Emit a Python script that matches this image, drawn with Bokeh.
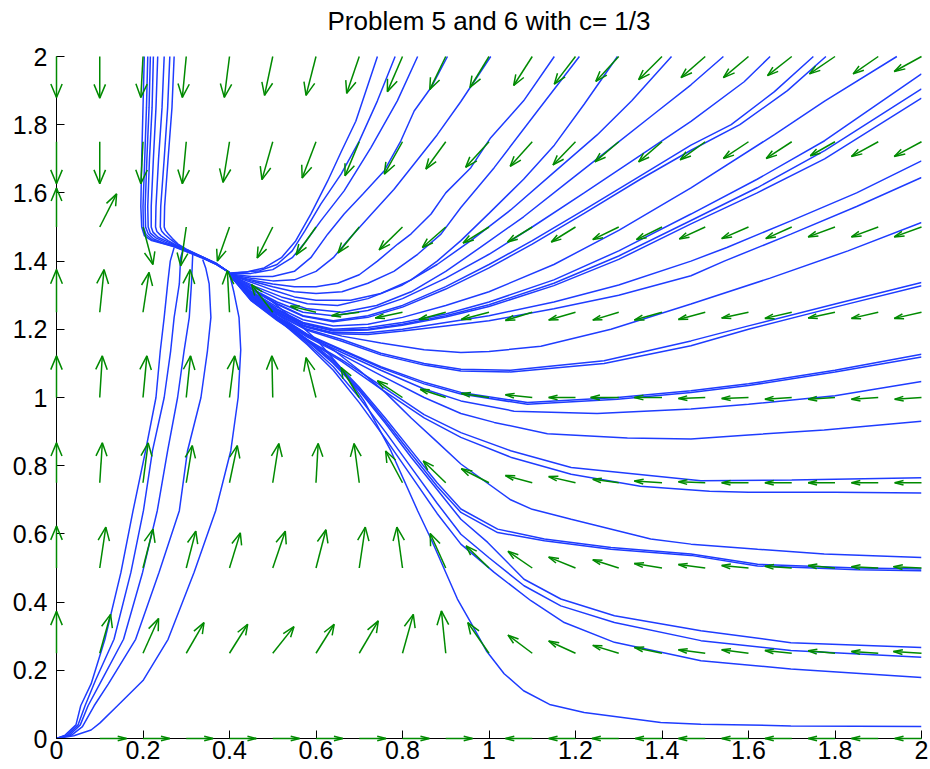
from bokeh.plotting import figure
from bokeh.models import Range1d, FixedTicker, Label
from bokeh.embed import file_html
from bokeh.resources import INLINE

title_text = "Problem 5 and 6 with c= 1/3"
x_ticks = [0, 0.2, 0.4, 0.6, 0.8, 1, 1.2, 1.4, 1.6, 1.8, 2]
x_tick_labels = ["0", "0.2", "0.4", "0.6", "0.8", "1", "1.2", "1.4", "1.6", "1.8", "2"]
y_ticks = [0, 0.2, 0.4, 0.6, 0.8, 1, 1.2, 1.4, 1.6, 1.8, 2]
y_tick_labels = ["0", "0.2", "0.4", "0.6", "0.8", "1", "1.2", "1.4", "1.6", "1.8", "2"]

# ---- direction field (arrow components) ----
grid_x = [0.0, 0.1, 0.2, 0.3, 0.4, 0.5, 0.6, 0.7, 0.8, 0.9, 1.0,
          1.1, 1.2, 1.3, 1.4, 1.5, 1.6, 1.7, 1.8, 1.9, 2.0]
grid_y = [0.0, 0.25, 0.5, 0.75, 1.0, 1.25, 1.5, 1.75, 2.0]

u_y000 = [0, 0.062, 0.062, 0.062, 0.062, 0.062, 0.062, 0.062, 0.062, 0.062, 0,
          -0.062, -0.062, -0.062, -0.062, -0.062, -0.062, -0.062, -0.062, -0.062, -0.062]
v_y000 = [0] * 21
u_y025 = [0, 0.025, 0.036, 0.041, 0.042, 0.049, 0.042, 0.044, 0.025, -0.010, -0.049,
          -0.056, -0.062, -0.060, -0.064, -0.062, -0.062, -0.062, -0.062, -0.062, -0.065]
v_y025 = [0.123, 0.114, 0.102, 0.090, 0.085, 0.078, 0.085, 0.095, 0.114, 0.124, 0.090,
          0.053, 0.036, 0.023, 0.017, 0.010, 0.010, 0.008, 0.007, 0.005, 0.005]
u_y050 = [0, 0.014, 0.023, 0.022, 0.025, 0.029, 0.023, 0.014, -0.013, -0.036, -0.053,
          -0.056, -0.062, -0.060, -0.064, -0.062, -0.062, -0.062, -0.062, -0.062, -0.065]
v_y050 = [0.123, 0.120, 0.114, 0.108, 0.103, 0.108, 0.112, 0.120, 0.120, 0.101, 0.065,
          0.049, 0.032, 0.024, 0.013, 0.010, 0.007, 0.005, 0.007, 0.004, 0.004]
u_y075 = [0, 0.006, 0.012, 0.014, 0.018, 0.014, 0.005, -0.012, -0.039, -0.052, -0.064,
          -0.062, -0.062, -0.060, -0.064, -0.062, -0.062, -0.062, -0.062, -0.062, -0.062]
v_y075 = [0.117, 0.117, 0.117, 0.109, 0.109, 0.115, 0.115, 0.115, 0.093, 0.064, 0.041,
          0.021, 0.018, 0.010, 0.005, 0.003, 0.0, 0.0, 0.0, 0.0, 0.0]
u_y100 = [0, 0.006, 0.009, 0.010, 0.012, -0.002, -0.023, -0.042, -0.058, -0.059, -0.064,
          -0.062, -0.062, -0.065, -0.064, -0.062, -0.062, -0.062, -0.062, -0.062, -0.062]
v_y100 = [0.122, 0.122, 0.122, 0.122, 0.122, 0.122, 0.117, 0.088, 0.049, 0.024, 0.012,
          0.008, 0.0, 0.0, 0.0, -0.003, -0.003, -0.005, -0.005, -0.005, -0.005]
u_y125 = [0, 0.010, 0.014, 0.009, -0.005, -0.049, -0.059, -0.064, -0.063, -0.062, -0.064,
          -0.062, -0.062, -0.060, -0.064, -0.062, -0.062, -0.062, -0.062, -0.062, -0.063]
v_y125 = [0.125, 0.125, 0.117, 0.125, 0.122, 0.081, 0.018, -0.010, -0.017, -0.021, -0.021,
          -0.024, -0.023, -0.023, -0.023, -0.021, -0.017, -0.018, -0.017, -0.018, -0.018]
u_y150 = [0, 0.039, 0.023, -0.013, -0.028, -0.036, -0.046, -0.049, -0.054, -0.054, -0.060,
          -0.057, -0.056, -0.060, -0.059, -0.060, -0.062, -0.060, -0.062, -0.062, -0.063]
v_y150 = [0.114, 0.097, -0.110, -0.114, -0.100, -0.091, -0.082, -0.076, -0.067, -0.060, -0.047,
          -0.044, -0.044, -0.037, -0.037, -0.035, -0.034, -0.034, -0.029, -0.029, -0.029]
u_y175 = [0, 0, -0.005, -0.009, -0.015, -0.025, -0.032, -0.033, -0.042, -0.046, -0.054,
          -0.051, -0.052, -0.055, -0.054, -0.058, -0.058, -0.059, -0.057, -0.062, -0.063]
v_y175 = [-0.123, -0.123, -0.123, -0.123, -0.119, -0.111, -0.106, -0.100, -0.095, -0.080, -0.075,
          -0.072, -0.068, -0.059, -0.059, -0.053, -0.049, -0.049, -0.041, -0.043, -0.043]
u_y200 = [0, 0, -0.005, -0.009, -0.012, -0.019, -0.023, -0.029, -0.035, -0.037, -0.044,
          -0.043, -0.049, -0.053, -0.054, -0.056, -0.058, -0.056, -0.059, -0.058, -0.063]
v_y200 = [-0.120, -0.122, -0.120, -0.120, -0.120, -0.114, -0.114, -0.108, -0.103, -0.097, -0.091,
          -0.085, -0.081, -0.073, -0.068, -0.062, -0.062, -0.056, -0.051, -0.051, -0.044]

field_u = [u_y000, u_y025, u_y050, u_y075, u_y100, u_y125, u_y150, u_y175, u_y200]
field_v = [v_y000, v_y025, v_y050, v_y075, v_y100, v_y125, v_y150, v_y175, v_y200]

# ---- solution curves ----
top_left_1 = [(0.203, 2.0), (0.200, 1.85), (0.197, 1.70), (0.195, 1.56), (0.197, 1.50), (0.203, 1.475),
              (0.220, 1.460), (0.250, 1.450), (0.272, 1.442), (0.300, 1.428), (0.335, 1.410), (0.370, 1.390), (0.400, 1.366)]
top_left_2 = [(0.211, 2.0), (0.208, 1.85), (0.204, 1.70), (0.200, 1.56), (0.201, 1.50), (0.207, 1.478),
              (0.222, 1.462), (0.250, 1.451), (0.273, 1.443), (0.300, 1.429), (0.335, 1.411), (0.370, 1.390), (0.400, 1.366)]
top_left_3 = [(0.217, 2.0), (0.214, 1.85), (0.209, 1.70), (0.205, 1.56), (0.206, 1.50), (0.212, 1.480),
              (0.225, 1.465), (0.250, 1.452), (0.274, 1.444), (0.300, 1.430), (0.335, 1.412), (0.370, 1.391), (0.400, 1.366)]
top_left_4 = [(0.224, 2.0), (0.221, 1.85), (0.215, 1.70), (0.211, 1.56), (0.212, 1.50), (0.217, 1.482),
              (0.230, 1.468), (0.252, 1.455), (0.275, 1.445), (0.300, 1.431), (0.335, 1.412), (0.370, 1.391), (0.400, 1.366)]
top_left_5 = [(0.234, 2.0), (0.230, 1.85), (0.224, 1.70), (0.219, 1.56), (0.219, 1.50), (0.223, 1.485),
              (0.235, 1.470), (0.255, 1.458), (0.276, 1.446), (0.300, 1.432), (0.335, 1.413), (0.370, 1.392), (0.400, 1.366)]
top_left_6 = [(0.249, 2.0), (0.244, 1.85), (0.236, 1.70), (0.230, 1.56), (0.229, 1.50), (0.232, 1.487),
              (0.242, 1.474), (0.258, 1.460), (0.277, 1.447), (0.300, 1.433), (0.335, 1.413), (0.370, 1.392), (0.400, 1.366)]
top_left_7 = [(0.262, 2.0), (0.257, 1.85), (0.249, 1.70), (0.241, 1.56), (0.240, 1.50), (0.243, 1.488),
              (0.250, 1.478), (0.262, 1.465), (0.279, 1.449), (0.300, 1.434), (0.335, 1.414), (0.370, 1.393), (0.400, 1.366)]
top_left_8 = [(0.272, 2.0), (0.267, 1.85), (0.258, 1.70), (0.250, 1.56), (0.249, 1.50), (0.252, 1.490),
              (0.258, 1.480), (0.268, 1.466), (0.281, 1.450), (0.300, 1.435), (0.335, 1.414), (0.370, 1.393), (0.400, 1.366)]

origin_1 = [(0.0, 0.0), (0.020, 0.010), (0.045, 0.040), (0.056, 0.096), (0.080, 0.160), (0.112, 0.291), (0.149, 0.487),
            (0.177, 0.668), (0.206, 0.844), (0.230, 1.000), (0.240, 1.137), (0.249, 1.235), (0.257, 1.333), (0.263, 1.400), (0.272, 1.440)]
origin_2 = [(0.0, 0.0), (0.025, 0.010), (0.050, 0.040), (0.066, 0.096), (0.090, 0.170), (0.133, 0.291), (0.172, 0.487),
            (0.201, 0.668), (0.222, 0.844), (0.249, 1.000), (0.264, 1.137), (0.272, 1.235), (0.284, 1.333), (0.287, 1.410), (0.292, 1.432)]
origin_3 = [(0.0, 0.0), (0.030, 0.010), (0.055, 0.040), (0.073, 0.096), (0.100, 0.160), (0.155, 0.291), (0.199, 0.487),
            (0.233, 0.668), (0.257, 0.844), (0.280, 1.000), (0.295, 1.137), (0.307, 1.235), (0.312, 1.333), (0.315, 1.420)]
origin_4 = [(0.0, 0.0), (0.035, 0.010), (0.060, 0.035), (0.087, 0.096), (0.120, 0.160), (0.183, 0.291), (0.237, 0.487),
            (0.284, 0.668), (0.303, 0.844), (0.334, 1.000), (0.349, 1.137), (0.357, 1.235), (0.353, 1.333), (0.345, 1.380), (0.338, 1.405)]
origin_5 = [(0.0, 0.0), (0.040, 0.008), (0.080, 0.025), (0.100, 0.045), (0.141, 0.096), (0.200, 0.170), (0.258, 0.291),
            (0.318, 0.487), (0.368, 0.668), (0.403, 0.844), (0.420, 1.000), (0.426, 1.140), (0.422, 1.235), (0.410, 1.310), (0.400, 1.362)]

top_1 = [(0.742, 2.0), (0.692, 1.81), (0.658, 1.72), (0.627, 1.635), (0.588, 1.538), (0.553, 1.459), (0.520, 1.41),
         (0.480, 1.38), (0.440, 1.368), (0.400, 1.365)]
top_2 = [(0.783, 2.0), (0.742, 1.87), (0.700, 1.752), (0.658, 1.655), (0.611, 1.567), (0.575, 1.49), (0.545, 1.43),
         (0.510, 1.39), (0.470, 1.372), (0.400, 1.364)]
top_3 = [(0.835, 2.0), (0.788, 1.87), (0.727, 1.733), (0.665, 1.606), (0.611, 1.518), (0.575, 1.455), (0.545, 1.41),
         (0.500, 1.375), (0.450, 1.364), (0.400, 1.363)]
top_4 = [(0.904, 2.0), (0.866, 1.909), (0.827, 1.84), (0.796, 1.752), (0.758, 1.665), (0.708, 1.596), (0.665, 1.538),
         (0.627, 1.479), (0.588, 1.41), (0.550, 1.37), (0.500, 1.355), (0.450, 1.355), (0.400, 1.362)]
top_5 = [(1.004, 2.0), (0.935, 1.868), (0.880, 1.77), (0.830, 1.69), (0.780, 1.61), (0.730, 1.54), (0.680, 1.47),
         (0.640, 1.41), (0.600, 1.37), (0.550, 1.345), (0.500, 1.342), (0.450, 1.35), (0.400, 1.361)]
top_6 = [(1.151, 2.0), (1.080, 1.87), (1.004, 1.762), (0.958, 1.674), (0.900, 1.60), (0.866, 1.538), (0.820, 1.48),
         (0.789, 1.45), (0.742, 1.40), (0.700, 1.36), (0.650, 1.335), (0.600, 1.325), (0.550, 1.325), (0.500, 1.333),
         (0.450, 1.345), (0.400, 1.36)]
top_7 = [(1.209, 2.0), (1.112, 1.84), (1.012, 1.674), (0.935, 1.557), (0.889, 1.479), (0.835, 1.42), (0.780, 1.37),
         (0.720, 1.335), (0.660, 1.31), (0.600, 1.305), (0.550, 1.31), (0.500, 1.325), (0.450, 1.342), (0.400, 1.36)]
top_8 = [(1.297, 2.0), (1.220, 1.86), (1.151, 1.74), (1.080, 1.64), (1.000, 1.54), (0.935, 1.46), (0.880, 1.40),
         (0.820, 1.345), (0.750, 1.305), (0.680, 1.285), (0.600, 1.285), (0.550, 1.295), (0.500, 1.315), (0.450, 1.338), (0.400, 1.36)]
top_9 = [(1.422, 2.0), (1.330, 1.87), (1.250, 1.77), (1.150, 1.66), (1.050, 1.55), (0.958, 1.46), (0.880, 1.39),
         (0.800, 1.33), (0.720, 1.29), (0.650, 1.27), (0.580, 1.275), (0.520, 1.295), (0.460, 1.325), (0.400, 1.36)]
top_10 = [(1.542, 2.0), (1.467, 1.917), (1.380, 1.83), (1.280, 1.73), (1.180, 1.63), (1.080, 1.53), (0.980, 1.44),
          (0.900, 1.37), (0.820, 1.31), (0.740, 1.27), (0.660, 1.25), (0.580, 1.26), (0.520, 1.285), (0.460, 1.32), (0.400, 1.36)]
top_11 = [(1.650, 2.0), (1.590, 1.926), (1.467, 1.81), (1.350, 1.71), (1.220, 1.60), (1.100, 1.50), (1.000, 1.42),
          (0.900, 1.35), (0.800, 1.29), (0.720, 1.255), (0.640, 1.24), (0.570, 1.25), (0.510, 1.28), (0.450, 1.32), (0.400, 1.36)]
top_12 = [(1.750, 2.0), (1.660, 1.897), (1.560, 1.80), (1.467, 1.74), (1.350, 1.65), (1.220, 1.55), (1.100, 1.46),
          (1.000, 1.39), (0.900, 1.325), (0.800, 1.27), (0.720, 1.24), (0.640, 1.225), (0.570, 1.24), (0.510, 1.275),
          (0.450, 1.318), (0.400, 1.36)]
top_13 = [(1.779, 2.0), (1.690, 1.90), (1.580, 1.80), (1.467, 1.725), (1.350, 1.64), (1.220, 1.54), (1.100, 1.45),
          (1.000, 1.38), (0.900, 1.318), (0.800, 1.265), (0.720, 1.235), (0.640, 1.222), (0.570, 1.238), (0.510, 1.273),
          (0.450, 1.317), (0.400, 1.36)]
top_14 = [(1.943, 2.0), (1.776, 1.869), (1.660, 1.771), (1.467, 1.615), (1.300, 1.49), (1.150, 1.39), (1.000, 1.31),
          (0.900, 1.27), (0.800, 1.235), (0.720, 1.215), (0.640, 1.21), (0.570, 1.228), (0.510, 1.265), (0.450, 1.312), (0.400, 1.36)]

right_1 = [(2.0, 1.949), (1.776, 1.753), (1.620, 1.64), (1.467, 1.538), (1.300, 1.43), (1.150, 1.345), (1.000, 1.28),
           (0.900, 1.245), (0.800, 1.22), (0.720, 1.205), (0.640, 1.20), (0.570, 1.22), (0.510, 1.26), (0.450, 1.31), (0.400, 1.36)]
right_2 = [(2.0, 1.905), (1.776, 1.724), (1.620, 1.615), (1.467, 1.519), (1.300, 1.415), (1.150, 1.335), (1.000, 1.272),
           (0.900, 1.24), (0.800, 1.215), (0.720, 1.20), (0.640, 1.197), (0.570, 1.218), (0.510, 1.258), (0.450, 1.308), (0.400, 1.36)]
right_3 = [(2.0, 1.878), (1.776, 1.70), (1.620, 1.60), (1.467, 1.509), (1.300, 1.405), (1.150, 1.328), (1.000, 1.267),
           (0.900, 1.236), (0.800, 1.212), (0.720, 1.198), (0.640, 1.195), (0.570, 1.216), (0.510, 1.256), (0.450, 1.307), (0.400, 1.36)]
right_4 = [(2.0, 1.694), (1.850, 1.60), (1.698, 1.518), (1.550, 1.44), (1.467, 1.40), (1.300, 1.33), (1.150, 1.28),
           (1.000, 1.24), (0.900, 1.22), (0.800, 1.20), (0.720, 1.19), (0.640, 1.19), (0.570, 1.212), (0.510, 1.253),
           (0.450, 1.305), (0.400, 1.36)]
right_5 = [(2.0, 1.645), (1.850, 1.56), (1.698, 1.479), (1.544, 1.40), (1.467, 1.357), (1.300, 1.30), (1.150, 1.26),
           (1.000, 1.225), (0.900, 1.21), (0.800, 1.195), (0.720, 1.185), (0.640, 1.187), (0.570, 1.21), (0.510, 1.25),
           (0.450, 1.303), (0.400, 1.36)]
right_6 = [(2.0, 1.513), (1.830, 1.43), (1.650, 1.35), (1.467, 1.274), (1.282, 1.20), (1.120, 1.15), (1.000, 1.135),
           (0.935, 1.132), (0.850, 1.14), (0.750, 1.16), (0.660, 1.18), (0.580, 1.205), (0.510, 1.248), (0.450, 1.30), (0.400, 1.36)]
right_7 = [(2.0, 1.337), (1.800, 1.274), (1.600, 1.21), (1.467, 1.166), (1.266, 1.108), (1.050, 1.08), (0.935, 1.083),
           (0.850, 1.10), (0.750, 1.13), (0.660, 1.17), (0.580, 1.20), (0.510, 1.245), (0.450, 1.298), (0.400, 1.36)]
right_8 = [(2.0, 1.328), (1.800, 1.265), (1.600, 1.20), (1.467, 1.152), (1.266, 1.10), (1.050, 1.075), (0.935, 1.078),
           (0.850, 1.095), (0.750, 1.125), (0.660, 1.165), (0.580, 1.197), (0.510, 1.243), (0.450, 1.297), (0.400, 1.36)]
right_9 = [(2.0, 1.127), (1.800, 1.08), (1.600, 1.04), (1.467, 1.02), (1.297, 1.00), (1.089, 0.985), (0.935, 1.015),
           (0.850, 1.045), (0.750, 1.09), (0.660, 1.14), (0.580, 1.185), (0.510, 1.238), (0.450, 1.293), (0.400, 1.36)]
right_10 = [(2.0, 1.119), (1.800, 1.075), (1.600, 1.035), (1.467, 1.015), (1.297, 0.995), (1.089, 0.98), (0.935, 1.01),
            (0.850, 1.04), (0.750, 1.087), (0.660, 1.138), (0.580, 1.183), (0.510, 1.237), (0.450, 1.292), (0.400, 1.36)]
right_11 = [(2.0, 1.047), (1.800, 1.005), (1.600, 0.98), (1.467, 0.966), (1.250, 0.953), (1.058, 0.96), (0.935, 0.99),
            (0.850, 1.025), (0.750, 1.08), (0.660, 1.132), (0.580, 1.18), (0.510, 1.235), (0.450, 1.29), (0.400, 1.36)]
right_12 = [(2.0, 0.930), (1.775, 0.905), (1.600, 0.89), (1.467, 0.878), (1.320, 0.881), (1.135, 0.894), (1.012, 0.927),
            (0.935, 0.953), (0.850, 1.00), (0.750, 1.065), (0.660, 1.125), (0.580, 1.177), (0.510, 1.232), (0.450, 1.288), (0.400, 1.36)]
right_13 = [(2.0, 0.765), (1.700, 0.758), (1.490, 0.756), (1.190, 0.795), (1.050, 0.844), (0.935, 0.897), (0.850, 0.95),
            (0.750, 1.035), (0.660, 1.11), (0.580, 1.17), (0.510, 1.228), (0.450, 1.285), (0.400, 1.36)]
right_14 = [(2.0, 0.720), (1.800, 0.722), (1.600, 0.722), (1.510, 0.725), (1.350, 0.74), (1.190, 0.775), (1.050, 0.825),
            (0.935, 0.883), (0.850, 0.94), (0.750, 1.025), (0.660, 1.105), (0.580, 1.167), (0.510, 1.226), (0.450, 1.284), (0.400, 1.36)]
right_15 = [(2.0, 0.531), (1.775, 0.541), (1.621, 0.555), (1.467, 0.57), (1.374, 0.585), (1.190, 0.643), (1.100, 0.672),
            (1.050, 0.70), (0.935, 0.805), (0.880, 0.87), (0.820, 0.94), (0.760, 1.015), (0.700, 1.08), (0.640, 1.14),
            (0.580, 1.185), (0.520, 1.235), (0.460, 1.29), (0.400, 1.36)]
right_16 = [(2.0, 0.497), (1.852, 0.50), (1.621, 0.511), (1.467, 0.541), (1.282, 0.56), (1.128, 0.585), (1.020, 0.614),
            (0.935, 0.673), (0.880, 0.75), (0.820, 0.845), (0.760, 0.94), (0.700, 1.03), (0.640, 1.11), (0.580, 1.17),
            (0.520, 1.228), (0.460, 1.285), (0.400, 1.36)]
right_17 = [(2.0, 0.492), (1.852, 0.495), (1.621, 0.506), (1.467, 0.537), (1.282, 0.555), (1.128, 0.58), (1.020, 0.604),
            (0.935, 0.663), (0.880, 0.74), (0.820, 0.835), (0.760, 0.932), (0.700, 1.025), (0.640, 1.105), (0.580, 1.167),
            (0.520, 1.226), (0.460, 1.284), (0.400, 1.36)]
right_18 = [(2.0, 0.267), (1.698, 0.281), (1.490, 0.316), (1.290, 0.36), (1.166, 0.409), (1.081, 0.467), (0.997, 0.575),
            (0.935, 0.643), (0.880, 0.73), (0.820, 0.825), (0.760, 0.925), (0.700, 1.02), (0.640, 1.10), (0.580, 1.165),
            (0.520, 1.225), (0.460, 1.283), (0.400, 1.36)]
right_19 = [(2.0, 0.238), (1.698, 0.258), (1.490, 0.287), (1.290, 0.34), (1.166, 0.389), (1.081, 0.448), (1.000, 0.53),
            (0.935, 0.599), (0.880, 0.69), (0.820, 0.795), (0.760, 0.90), (0.700, 1.00), (0.640, 1.09), (0.580, 1.16),
            (0.520, 1.222), (0.460, 1.282), (0.400, 1.36)]
right_20 = [(2.0, 0.179), (1.698, 0.204), (1.490, 0.228), (1.290, 0.282), (1.174, 0.34), (1.097, 0.404), (1.012, 0.487),
            (0.935, 0.57), (0.880, 0.66), (0.820, 0.77), (0.760, 0.88), (0.700, 0.985), (0.640, 1.08), (0.580, 1.155),
            (0.520, 1.22), (0.460, 1.28), (0.400, 1.36)]
right_21 = [(2.0, 0.035), (1.698, 0.037), (1.490, 0.042), (1.397, 0.047), (1.220, 0.076), (1.140, 0.100), (1.080, 0.140),
            (1.035, 0.190), (0.995, 0.255), (0.958, 0.34), (0.927, 0.409), (0.866, 0.585), (0.835, 0.668), (0.773, 0.844),
            (0.711, 0.99), (0.657, 1.088), (0.604, 1.166), (0.557, 1.22), (0.496, 1.284), (0.450, 1.322), (0.400, 1.36)]

trajectories = [top_left_1, top_left_2, top_left_3, top_left_4, top_left_5, top_left_6, top_left_7, top_left_8,
                origin_1, origin_2, origin_3, origin_4, origin_5,
                top_1, top_2, top_3, top_4, top_5, top_6, top_7, top_8, top_9, top_10, top_11, top_12, top_13, top_14,
                right_1, right_2, right_3, right_4, right_5, right_6, right_7, right_8, right_9, right_10, right_11,
                right_12, right_13, right_14, right_15, right_16, right_17, right_18, right_19, right_20, right_21]

BLUE = "#1e3cff"
GREEN = "#008a00"
FONT = "Liberation Sans"

# The frame reaches to the top of the canvas (white, no outline) so the title can sit inside it;
# the y axis itself is bounded to 0..2.
p = figure(frame_width=865, frame_height=738,
           x_range=Range1d(0, 2), y_range=Range1d(0, 2.0 + 56.0 / 341.0),
           output_backend="svg", toolbar_location=None,
           min_border_left=56, min_border_right=8, min_border_top=0, min_border_bottom=31)
p.outline_line_color = None
p.xgrid.visible = False
p.ygrid.visible = False
p.background_fill_color = "white"
p.border_fill_color = "white"

p.add_layout(Label(x=1.0, y=2.0, x_units="data", y_units="data", y_offset=36,
                   text=title_text, text_align="center", text_baseline="middle",
                   text_font=FONT, text_font_size="26px", text_color="black"))

for ax, ticks, labels in ((p.xaxis[0], x_ticks, x_tick_labels), (p.yaxis[0], y_ticks, y_tick_labels)):
    ax.ticker = FixedTicker(ticks=ticks)
    ax.major_label_overrides = {t: l for t, l in zip(ticks, labels)}
    ax.major_tick_in = 8
    ax.major_tick_out = 0
    ax.minor_tick_line_color = None
    ax.axis_line_color = "black"
    ax.major_tick_line_color = "black"
    ax.major_label_text_font = FONT
    ax.major_label_text_font_size = "25px"
    ax.major_label_text_color = "black"
p.yaxis[0].bounds = (0, 2)
p.xaxis[0].major_label_standoff = 2
p.yaxis[0].major_label_standoff = 9

# trajectories
p.multi_line(xs=[[pt[0] for pt in c] for c in trajectories],
             ys=[[pt[1] for pt in c] for c in trajectories],
             line_color=BLUE, line_width=1.5)

# quiver arrows (MATLAB style heads)
alpha, beta = 0.33, 0.33
axs, ays = [], []
for j, yv in enumerate(grid_y):
    for i, xv in enumerate(grid_x):
        u = field_u[j][i]
        v = field_v[j][i]
        if u == 0 and v == 0:
            continue
        tx, ty = xv + u, yv + v
        axs.append([xv, tx])
        ays.append([yv, ty])
        axs.append([tx - alpha * (u + beta * v), tx, tx - alpha * (u - beta * v)])
        ays.append([ty - alpha * (v - beta * u), ty, ty - alpha * (v + beta * u)])
arrows = p.multi_line(xs=axs, ys=ays, line_color=GREEN, line_width=1.5)
arrows.level = "overlay"

open("out.html", "w").write(file_html(p, INLINE))
